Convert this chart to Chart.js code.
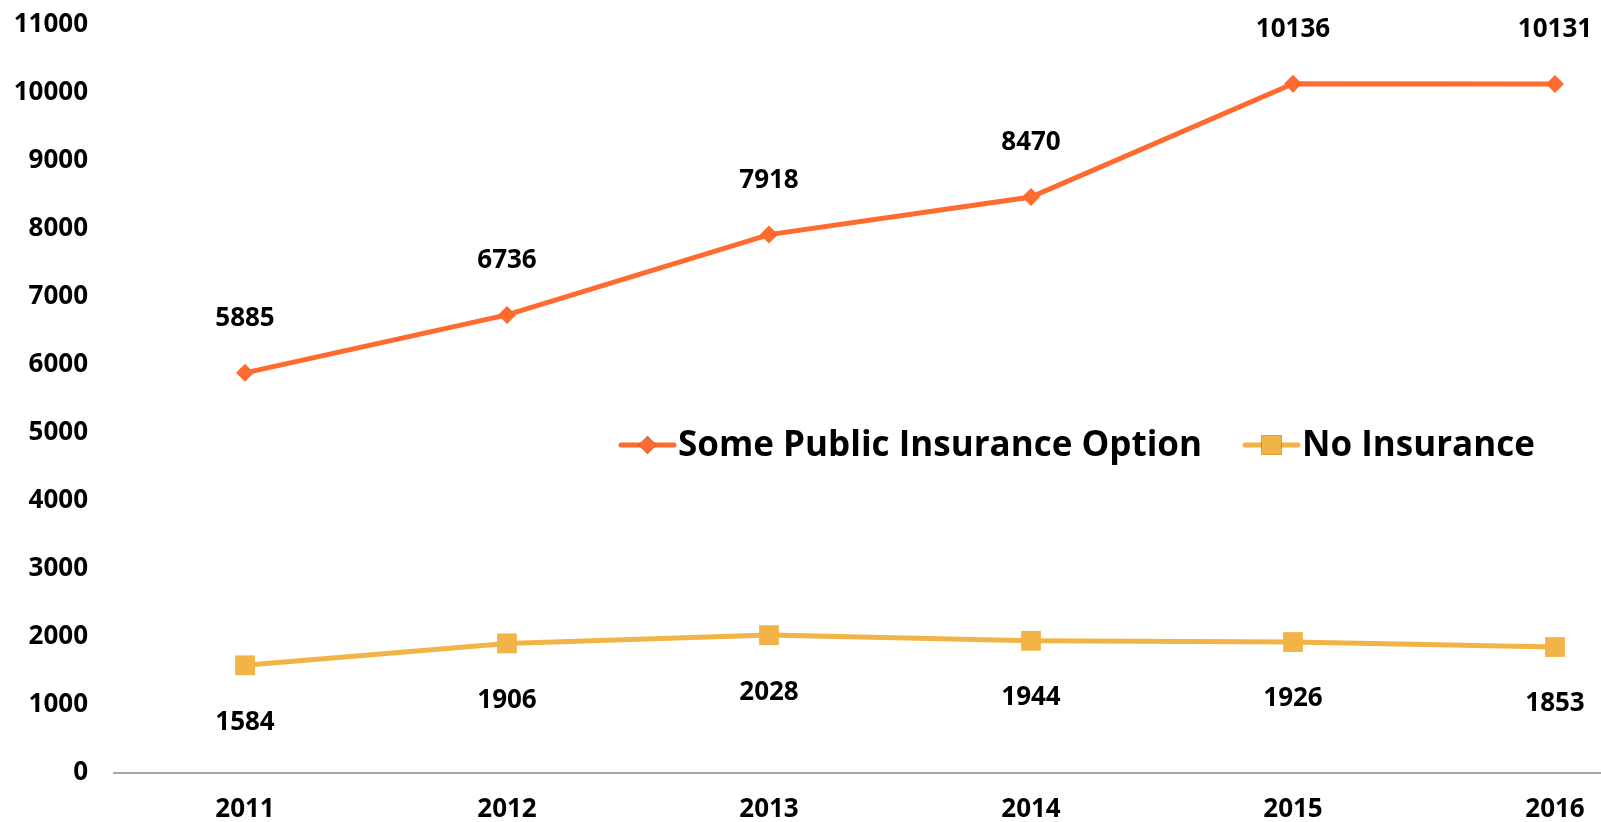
<!DOCTYPE html>
<html>
<head>
<meta charset="utf-8">
<script src="https://cdn.jsdelivr.net/npm/chart.js@4/dist/chart.umd.min.js"></script>
<style>
  html, body { margin: 0; padding: 0; background: #ffffff; overflow: hidden; }
  #wrap { position: relative; width: 1700px; height: 822px; }
</style>
</head>
<body>
<div id="wrap"><canvas id="c"></canvas></div>
<script>
const categories = ['2011', '2012', '2013', '2014', '2015', '2016'];
const publicOption = [5885, 6736, 7918, 8470, 10136, 10131];
const noInsurance = [1584, 1906, 2028, 1944, 1926, 1853];
const seriesNames = ['Some Public Insurance Option', 'No Insurance'];
const yTicks = [0, 1000, 2000, 3000, 4000, 5000, 6000, 7000, 8000, 9000, 10000, 11000];

const ORANGE = '#FF6A2E';
const YELLOW = '#F2B447';
const FONT = '"Open Sans", "Noto Sans", sans-serif';

const valueLabels = {
  id: 'valueLabels',
  afterDatasetsDraw(chart) {
    const ctx = chart.ctx;
    ctx.save();
    ctx.font = 'bold 26px ' + FONT;
    ctx.fillStyle = '#000';
    ctx.textAlign = 'center';
    ctx.textBaseline = 'middle';
    chart.data.datasets.forEach((ds, i) => {
      const meta = chart.getDatasetMeta(i);
      const off = ds.labelOffset;
      meta.data.forEach((pt, j) => {
        ctx.fillText(String(ds.data[j]), pt.x, pt.y + off);
      });
    });
    ctx.restore();
  }
};

const customLegend = {
  id: 'customLegend',
  afterDraw(chart, args, opts) {
    const ctx = chart.ctx;
    ctx.save();
    ctx.font = 'bold 35px ' + FONT;
    ctx.textBaseline = 'middle';
    ctx.textAlign = 'left';
    const y = opts.y;
    opts.items.forEach((it, i) => {
      const ds = chart.data.datasets[i];
      const x0 = it.x;
      ctx.strokeStyle = ds.borderColor;
      ctx.lineWidth = 5;
      ctx.lineCap = 'round';
      ctx.beginPath();
      ctx.moveTo(x0, y);
      ctx.lineTo(x0 + 53, y);
      ctx.stroke();
      Chart.helpers.drawPoint(ctx, {
        pointStyle: ds.pointStyle,
        radius: ds.legendRadius,
        borderWidth: 0
      }, x0 + 26.5, y);
      ctx.fillStyle = ds.borderColor;
      ctx.fill();
      ctx.fillStyle = '#000';
      ctx.fillText(ds.label, x0 + 57, y + 1);
    });
    ctx.restore();
  }
};

new Chart(document.getElementById('c'), {
  type: 'line',
  data: {
    labels: categories,
    datasets: [
      {
        label: seriesNames[0],
        data: publicOption,
        borderColor: ORANGE,
        backgroundColor: ORANGE,
        borderWidth: 5,
        pointStyle: 'rectRot',
        pointRadius: 9,
        pointHoverRadius: 9,
        pointBorderWidth: 0,
        legendRadius: 9,
        labelOffset: -54,
        tension: 0
      },
      {
        label: seriesNames[1],
        data: noInsurance,
        borderColor: YELLOW,
        backgroundColor: YELLOW,
        borderWidth: 5,
        pointStyle: 'rect',
        pointRadius: 14,
        pointHoverRadius: 14,
        pointBorderWidth: 0,
        legendRadius: 14,
        labelOffset: 57,
        tension: 0
      }
    ]
  },
  options: {
    responsive: true,
    maintainAspectRatio: false,
    animation: false,
    layout: { padding: { top: 25, right: 12, bottom: 0, left: 0 } },
    plugins: {
      legend: { display: false },
      tooltip: { enabled: false },
      customLegend: {
        y: 445,
        items: [{ x: 621 }, { x: 1245 }]
      }
    },
    scales: {
      x: {
        type: 'category',
        offset: true,
        grid: { display: false, drawTicks: false },
        border: { display: true, color: '#A6A6A6', width: 2 },
        ticks: {
          color: '#000',
          font: { family: FONT, size: 26, weight: 'bold' },
          padding: 21,
          maxRotation: 0
        },
        afterFit(scale) { scale.height = 49; scale.paddingLeft = 0; scale.paddingRight = 0; }
      },
      y: {
        min: 0,
        max: 11000,
        grid: { display: false, drawTicks: false },
        border: { display: false },
        afterBuildTicks(scale) { scale.ticks = yTicks.map(v => ({ value: v })); },
        ticks: {
          color: '#000',
          font: { family: FONT, size: 26, weight: 'bold' },
          padding: 26,
          callback: (v) => String(v)
        },
        afterFit(scale) { scale.width = 114; scale.paddingTop = 0; scale.paddingBottom = 0; }
      }
    }
  },
  plugins: [valueLabels, customLegend]
});
</script>
</body>
</html>
